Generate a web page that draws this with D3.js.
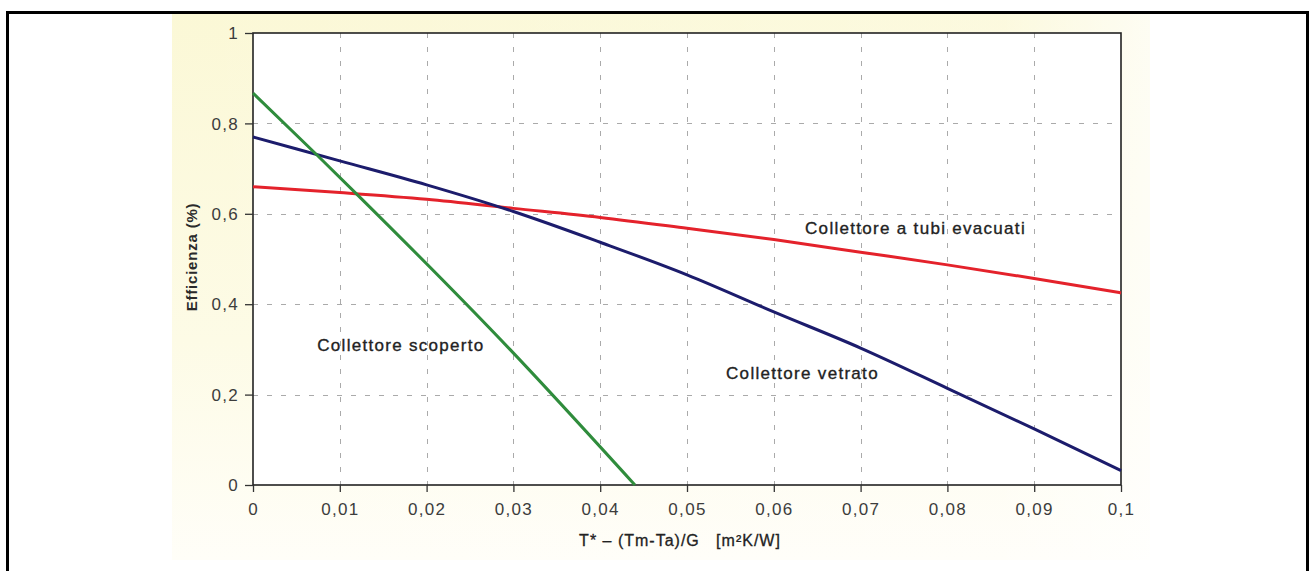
<!DOCTYPE html>
<html>
<head>
<meta charset="utf-8">
<script src="https://cdn.jsdelivr.net/npm/d3@7"></script>
<style>
  html, body { margin: 0; padding: 0; background: #fff; }
  svg { display: block; }
</style>
</head>
<body>
<svg id="chart" width="1310" height="571"></svg>
<script>
// ---------- DATA ----------
const xTicks = [0, 0.01, 0.02, 0.03, 0.04, 0.05, 0.06, 0.07, 0.08, 0.09, 0.1];
const xTickLabels = ["0", "0,01", "0,02", "0,03", "0,04", "0,05", "0,06", "0,07", "0,08", "0,09", "0,1"];
const yTicks = [0, 0.2, 0.4, 0.6, 0.8, 1];
const yTickLabels = ["0", "0,2", "0,4", "0,6", "0,8", "1"];

const seriesNames = ["Collettore a tubi evacuati", "Collettore vetrato", "Collettore scoperto"];
const tubiX = [0, 0.01, 0.02, 0.03, 0.04, 0.05, 0.06, 0.07, 0.08, 0.09, 0.1];
const tubiY = [0.66, 0.647, 0.632, 0.612, 0.592, 0.568, 0.543, 0.515, 0.487, 0.457, 0.425];
const vetratoX = [0, 0.01, 0.02, 0.03, 0.04, 0.05, 0.06, 0.07, 0.08, 0.09, 0.1];
const vetratoY = [0.77, 0.717, 0.664, 0.605, 0.537, 0.465, 0.383, 0.303, 0.214, 0.124, 0.032];
const scopertoX = [0, 0.00737, 0.0123, 0.0296, 0.044];
const scopertoY = [0.867, 0.730, 0.637, 0.30, 0];

const xTitle = "T* \u2013 (Tm-Ta)/G   [m\u00B2K/W]";
const yTitle = "Efficienza (%)";

// ---------- LAYOUT ----------
const svg = d3.select("#chart");
const plot = { left: 253, right: 1121, top: 33, bottom: 485 };

const x = d3.scaleLinear().domain([0, 0.1]).range([plot.left, plot.right]);
const y = d3.scaleLinear().domain([0, 1]).range([plot.bottom, plot.top]);

// background gradient (yellowish panel behind chart)
const defs = svg.append("defs");
const gv = defs.append("linearGradient").attr("id", "bgv").attr("x1", 0).attr("y1", 0).attr("x2", 0).attr("y2", 1);
gv.append("stop").attr("offset", "0%").attr("stop-color", "#fbf8d6");
gv.append("stop").attr("offset", "60%").attr("stop-color", "#fdfbe6");
gv.append("stop").attr("offset", "100%").attr("stop-color", "#fffef8");
const gh = defs.append("linearGradient").attr("id", "bgh").attr("x1", 0).attr("y1", 0).attr("x2", 1).attr("y2", 0);
gh.append("stop").attr("offset", "0%").attr("stop-color", "#fff").attr("stop-opacity", 0);
gh.append("stop").attr("offset", "85%").attr("stop-color", "#fff").attr("stop-opacity", 0.2);
gh.append("stop").attr("offset", "100%").attr("stop-color", "#fff").attr("stop-opacity", 0.7);

svg.append("rect").attr("x", 172).attr("y", 12).attr("width", 978).attr("height", 548).attr("fill", "url(#bgv)");
svg.append("rect").attr("x", 172).attr("y", 12).attr("width", 978).attr("height", 548).attr("fill", "url(#bgh)");

// plot area
svg.append("rect")
  .attr("x", plot.left).attr("y", plot.top)
  .attr("width", plot.right - plot.left).attr("height", plot.bottom - plot.top)
  .attr("fill", "#ffffff");

// grid
const grid = svg.append("g").attr("stroke", "#aaaaaa").attr("stroke-width", 1).attr("stroke-dasharray", "5,9");
grid.selectAll("line.gx").data(xTicks.slice(1, -1)).join("line")
  .attr("x1", d => Math.round(x(d)) + 0.5).attr("x2", d => Math.round(x(d)) + 0.5)
  .attr("y1", plot.top).attr("y2", plot.bottom);
grid.selectAll("line.gy").data(yTicks.slice(1, -1)).join("line")
  .attr("y1", d => Math.round(y(d)) + 0.5).attr("y2", d => Math.round(y(d)) + 0.5)
  .attr("x1", plot.left).attr("x2", plot.right);

// frame
svg.append("rect")
  .attr("x", plot.left).attr("y", plot.top)
  .attr("width", plot.right - plot.left).attr("height", plot.bottom - plot.top)
  .attr("fill", "none").attr("stroke", "#222").attr("stroke-width", 1.6);

// axes
const xAxis = d3.axisBottom(x).tickValues(xTicks).tickSize(7).tickPadding(11)
  .tickFormat((d, i) => xTickLabels[i]);
const yAxis = d3.axisLeft(y).tickValues(yTicks).tickSize(8).tickPadding(6)
  .tickFormat((d, i) => yTickLabels[i]);

const gx = svg.append("g").attr("transform", `translate(0,${plot.bottom})`).call(xAxis);
const gy = svg.append("g").attr("transform", `translate(${plot.left},0)`).call(yAxis);
[gx, gy].forEach(g => {
  g.select(".domain").remove();
  g.selectAll(".tick line").attr("stroke", "#333").attr("stroke-width", 1.3);
  g.selectAll(".tick text")
    .attr("fill", "#3c3c3c")
    .style("font-family", "'Liberation Sans', Arial, sans-serif")
    .style("font-size", "17px")
    .style("letter-spacing", "1.3px");
});
gy.selectAll(".tick text").attr("dy", "0.34em");

// series lines
const line = d3.line().x(d => x(d[0])).y(d => y(d[1])).curve(d3.curveMonotoneX);
const series = [
  { xs: tubiX, ys: tubiY, color: "#e4222b" },
  { xs: vetratoX, ys: vetratoY, color: "#1c1c6c" },
  { xs: scopertoX, ys: scopertoY, color: "#2f8c3c" }
];
series.forEach(s => {
  svg.append("path")
    .datum(s.xs.map((v, i) => [v, s.ys[i]]))
    .attr("d", line)
    .attr("fill", "none")
    .attr("stroke", s.color)
    .attr("stroke-width", 3);
});

// series labels
const lab = [
  { text: seriesNames[0], x: 0.0636, y: 0.569 },
  { text: seriesNames[1], x: 0.0545, y: 0.248 },
  { text: seriesNames[2], x: 0.0074, y: 0.309 }
];
svg.selectAll("text.lab").data(lab).join("text")
  .attr("class", "lab")
  .attr("x", d => x(d.x)).attr("y", d => y(d.y))
  .attr("dy", "0.35em")
  .attr("fill", "#222")
  .attr("stroke", "#222").attr("stroke-width", 0.35)
  .style("font-family", "'Liberation Sans', Arial, sans-serif")
  .style("font-size", "17px")
  .style("letter-spacing", "1.3px")
  .text(d => d.text);

// axis titles
svg.append("text")
  .attr("x", 680)
  .attr("y", 540).attr("dy", "0.35em")
  .attr("text-anchor", "middle")
  .attr("fill", "#222")
  .attr("stroke", "#222").attr("stroke-width", 0.3)
  .style("font-family", "'Liberation Sans', Arial, sans-serif")
  .style("font-size", "16px")
  .style("letter-spacing", "1px")
  .style("white-space", "pre")
  .text(xTitle);

svg.append("text")
  .attr("transform", `translate(192,${(plot.top + plot.bottom) / 2 - 2}) rotate(-90)`)
  .attr("dy", "0.35em")
  .attr("text-anchor", "middle")
  .attr("fill", "#2a2a2a")
  .style("font-family", "'Liberation Sans', Arial, sans-serif")
  .style("font-size", "15px")
  .style("font-weight", "bold")
  .style("letter-spacing", "0.8px")
  .text(yTitle);

// outer border
svg.append("rect")
  .attr("x", 7.5).attr("y", 12.5).attr("width", 1300).attr("height", 570)
  .attr("fill", "none").attr("stroke", "#000").attr("stroke-width", 3);
</script>
</body>
</html>
